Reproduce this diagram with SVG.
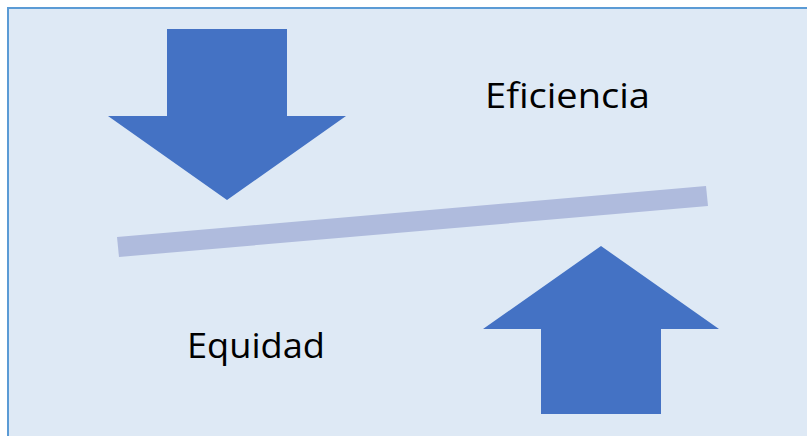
<svg xmlns="http://www.w3.org/2000/svg" width="807" height="436" viewBox="0 0 807 436">
<style>
.arrow{fill:#4472C4;}
.lbl{font-family:"Open Sans","Liberation Sans",sans-serif;font-size:35px;fill:#000;}
</style>
<rect x="0" y="0" width="807" height="436" fill="#FFFFFF"/>
<rect x="8" y="8" width="820" height="440" fill="#DEE9F5" stroke="#5B9BD5" stroke-width="2"/>
<g id="balance">
<polygon points="117,237 706,186 708,206 119,257" fill="#AFBBDD"/>
</g>
<g id="arrow-down">
<polygon class="arrow" points="167,29 287,29 287,116 346,116 227,200 108,116 167,116"/>
</g>
<g id="arrow-up">
<polygon class="arrow" points="601,246 719,329 661,329 661,414 541,414 541,329 483,329"/>
</g>
<g id="eficiencia">
<text class="lbl" x="485" y="108" textLength="165" lengthAdjust="spacingAndGlyphs">Eficiencia</text>
</g>
<g id="equidad">
<text class="lbl" x="187" y="358" textLength="138" lengthAdjust="spacingAndGlyphs">Equidad</text>
</g>
</svg>
